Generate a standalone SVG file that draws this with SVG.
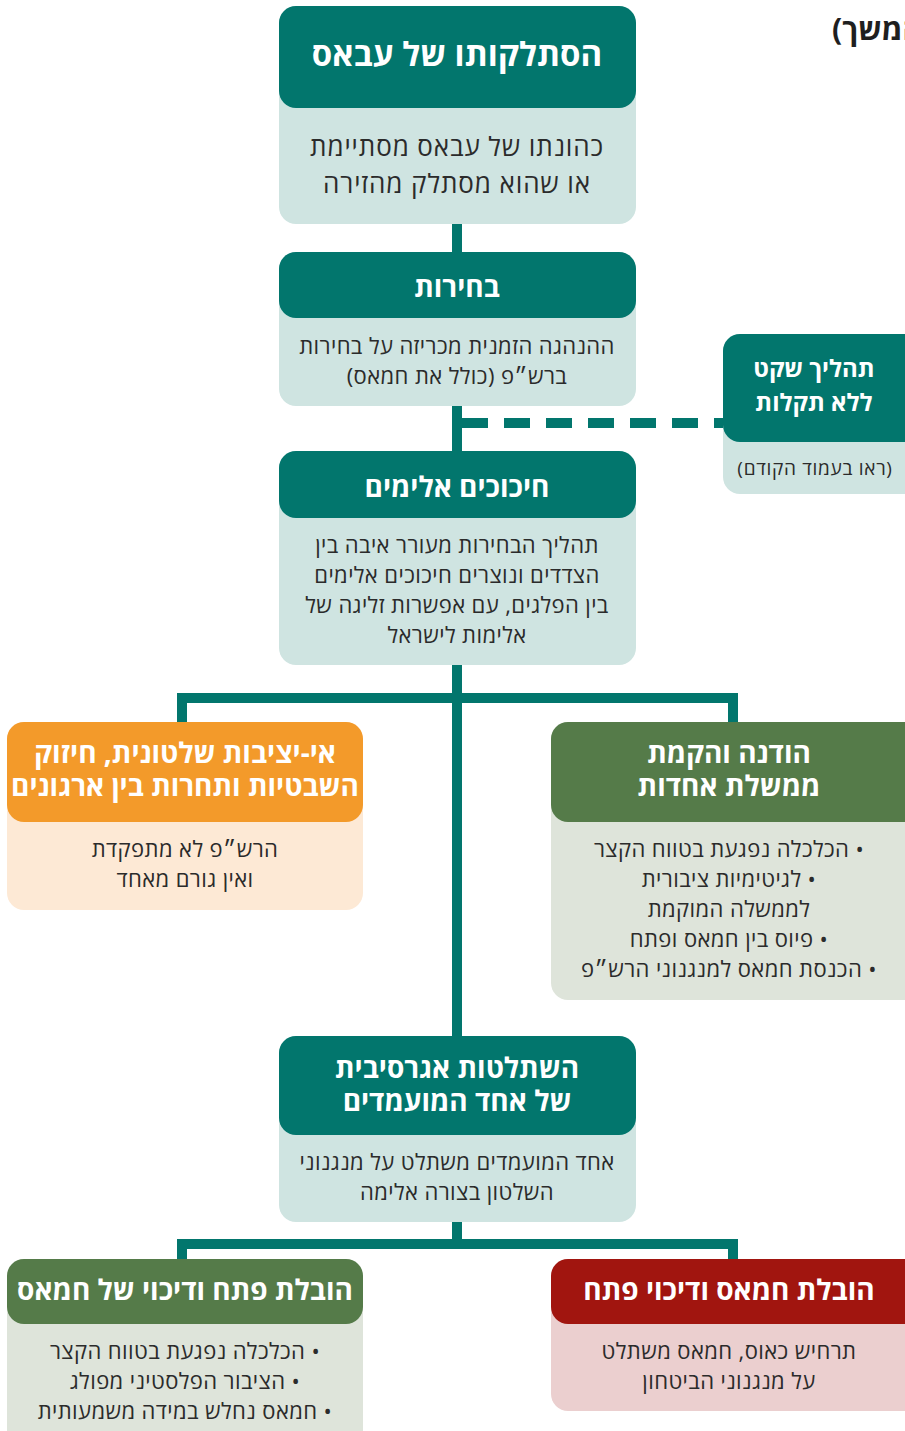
<svg xmlns="http://www.w3.org/2000/svg" width="905" height="1431" viewBox="0 0 905 1431">
<style>
text{font-family:"Open Sans","Liberation Sans","DejaVu Sans",sans-serif;direction:rtl;text-anchor:middle}
.h{fill:#fff;font-weight:700;font-size:28px}
.b{fill:#2b2b2b;font-size:22px;letter-spacing:0.4px}
.teal{fill:#02766d}.tealb{fill:#cfe4e1}
.org{fill:#f39a2a}.orgb{fill:#fde9d5}
.grn{fill:#557b49}.grnb{fill:#dee4da}
.red{fill:#a1150f}.redb{fill:#ebcfcf}
.ln{stroke:#02766d;stroke-width:10;fill:none}
</style>
<text x="832" y="40" style="fill:#1f1f1f;font-weight:700;font-size:30px;text-anchor:end">(המשך)</text>
<g id="connectors">
<line class="ln" x1="457" y1="220" x2="457" y2="1040"/>
<line class="ln" x1="462" y1="423" x2="726" y2="423" stroke-dasharray="26 16"/>
<polyline class="ln" points="182,726 182,698 733,698 733,726"/>
<polyline class="ln" points="182,1263 182,1244 733,1244 733,1263"/>
<line class="ln" x1="457" y1="1218" x2="457" y2="1244"/>
</g>
<g id="n1">
<rect class="tealb" x="279" y="6" width="357" height="218" rx="17"/>
<rect class="teal" x="279" y="6" width="357" height="102" rx="17"/>
<text class="h" x="457" y="66" style="font-size:33px">הסתלקותו של עבאס</text>
<text class="b" x="457" y="156" style="font-size:26px;letter-spacing:0.9px">כהונתו של עבאס מסתיימת</text>
<text class="b" x="457" y="193" style="font-size:26px;letter-spacing:0.9px">או שהוא מסתלק מהזירה</text>
</g>
<g id="n2">
<rect class="tealb" x="279" y="252" width="357" height="154" rx="17"/>
<rect class="teal" x="279" y="252" width="357" height="66" rx="17"/>
<text class="h" x="457" y="297">בחירות</text>
<text class="b" x="457" y="354">ההנהגה הזמנית מכריזה על בחירות</text>
<text class="b" x="457" y="384">ברש״פ (כולל את חמאס)</text>
</g>
<g id="side">
<rect class="tealb" x="723" y="334" width="200" height="160" rx="17"/>
<rect class="teal" x="723" y="334" width="200" height="108" rx="17"/>
<text class="h" x="814" y="377" style="font-size:24px">תהליך שקט</text>
<text class="h" x="814" y="411" style="font-size:24px">ללא תקלות</text>
<text class="b" x="815" y="475" style="font-size:19px;letter-spacing:0.7px">(ראו בעמוד הקודם)</text>
</g>
<g id="n3">
<rect class="tealb" x="279" y="451" width="357" height="214" rx="17"/>
<rect class="teal" x="279" y="451" width="357" height="67" rx="17"/>
<text class="h" x="457" y="497">חיכוכים אלימים</text>
<text class="b" x="457" y="553">תהליך הבחירות מעורר איבה בין</text>
<text class="b" x="457" y="583">הצדדים ונוצרים חיכוכים אלימים</text>
<text class="b" x="457" y="613">בין הפלגים, עם אפשרות זליגה של</text>
<text class="b" x="457" y="643">אלימות לישראל</text>
</g>
<g id="n4">
<rect class="orgb" x="7" y="722" width="356" height="188" rx="17"/>
<rect class="org" x="7" y="722" width="356" height="100" rx="17"/>
<text class="h" x="185" y="763">אי-יציבות שלטונית, חיזוק</text>
<text class="h" x="185" y="796">השבטיות ותחרות בין ארגונים</text>
<text class="b" x="185" y="857">הרש״פ לא מתפקדת</text>
<text class="b" x="185" y="887">ואין גורם מאחד</text>
</g>
<g id="n5">
<rect class="grnb" x="551" y="722" width="374" height="278" rx="17"/>
<rect class="grn" x="551" y="722" width="374" height="100" rx="17"/>
<text class="h" x="729" y="763">הודנה והקמת</text>
<text class="h" x="729" y="796">ממשלת אחדות</text>
<text class="b" x="729" y="857">• הכלכלה נפגעת בטווח הקצר</text>
<text class="b" x="729" y="887">• לגיטימיות ציבורית</text>
<text class="b" x="729" y="917">לממשלה המוקמת</text>
<text class="b" x="729" y="947">• פיוס בין חמאס ופתח</text>
<text class="b" x="729" y="977">• הכנסת חמאס למנגנוני הרש״פ</text>
</g>
<g id="n6">
<rect class="tealb" x="279" y="1036" width="357" height="186" rx="17"/>
<rect class="teal" x="279" y="1036" width="357" height="99" rx="17"/>
<text class="h" x="457" y="1078">השתלטות אגרסיבית</text>
<text class="h" x="457" y="1111">של אחד המועמדים</text>
<text class="b" x="457" y="1170">אחד המועמדים משתלט על מנגנוני</text>
<text class="b" x="457" y="1200">השלטון בצורה אלימה</text>
</g>
<g id="n7">
<rect class="grnb" x="7" y="1259" width="356" height="200" rx="17"/>
<rect class="grn" x="7" y="1259" width="356" height="65" rx="17"/>
<text class="h" x="185" y="1300">הובלת פתח ודיכוי של חמאס</text>
<text class="b" x="185" y="1359">• הכלכלה נפגעת בטווח הקצר</text>
<text class="b" x="185" y="1389">• הציבור הפלסטיני מפולג</text>
<text class="b" x="185" y="1419">• חמאס נחלש במידה משמעותית</text>
</g>
<g id="n8">
<rect class="redb" x="551" y="1259" width="374" height="152" rx="17"/>
<rect class="red" x="551" y="1259" width="374" height="65" rx="17"/>
<text class="h" x="729" y="1300">הובלת חמאס ודיכוי פתח</text>
<text class="b" x="729" y="1359">תרחיש כאוס, חמאס משתלט</text>
<text class="b" x="729" y="1389">על מנגנוני הביטחון</text>
</g>
</svg>
